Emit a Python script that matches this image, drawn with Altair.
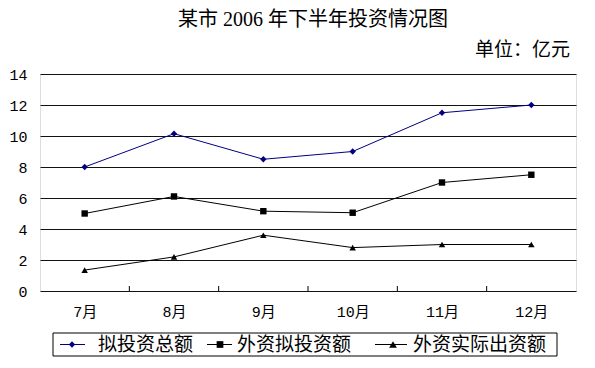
import json
import altair as alt
import pandas as pd

title_text = "某市 2006 年下半年投资情况图"
unit_text = "单位：亿元"
months = ["7月", "8月", "9月", "10月", "11月", "12月"]
series_names = ["拟投资总额", "外资拟投资额", "外资实际出资额"]
s_total = [8.0, 10.15, 8.5, 9.0, 11.5, 12.0]
s_foreign_plan = [5.0, 6.1, 5.15, 5.05, 7.0, 7.5]
s_foreign_actual = [1.35, 2.2, 3.6, 2.8, 3.0, 3.0]
y_ticks = [0, 2, 4, 6, 8, 10, 12, 14]

colors = ["#000080", "#000000", "#000000"]
shapes = ["diamond", "square", "triangle-up"]
sizes = [40, 42, 50]

rows = []
for name, vals in zip(series_names, [s_total, s_foreign_plan, s_foreign_actual]):
    for i, (m, v) in enumerate(zip(months, vals)):
        rows.append({"month": m, "pos": i + 0.5, "series": name, "value": v})
df = pd.DataFrame(rows)

W, H = 536, 217
cjk = "Noto Sans CJK SC"

label_expr = json.dumps(months, ensure_ascii=False) + "[floor(datum.value)]"

xscale = alt.Scale(domain=[0, len(months)], nice=False, zero=False)
yscale = alt.Scale(domain=[0, 14], nice=False)
color_scale = alt.Scale(domain=series_names, range=colors)
shape_scale = alt.Scale(domain=series_names, range=shapes)

x_axis = alt.Axis(
    values=[i + 0.5 for i in range(len(months))],
    labelExpr=label_expr,
    ticks=False,
    domain=False,
    grid=False,
    title=None,
    labelFont="Liberation Mono, " + cjk,
    labelFontSize=15,
    labelColor="#000000",
    labelPadding=13,
    labelOverlap=False,
)
y_axis = alt.Axis(
    values=y_ticks,
    ticks=False,
    domain=False,
    grid=True,
    gridColor="#111111",
    gridWidth=1,
    title=None,
    labelFont="Liberation Mono",
    labelFontSize=15,
    labelColor="#000000",
    labelPadding=13,
    labelOverlap=False,
)
x_enc = alt.X("pos:Q", scale=xscale, axis=x_axis)
y_enc = alt.Y("value:Q", scale=yscale, axis=y_axis)

base = alt.Chart(df)
lines = base.mark_line(strokeWidth=1).encode(
    x=x_enc,
    y=y_enc,
    color=alt.Color("series:N", scale=color_scale, legend=None),
    detail="series:N",
)
points = base.mark_point(filled=True, opacity=1).encode(
    x=x_enc,
    y=y_enc,
    color=alt.Color("series:N", scale=color_scale, legend=None),
    shape=alt.Shape("series:N", scale=shape_scale, legend=None),
    size=alt.Size("series:N", scale=alt.Scale(domain=series_names, range=sizes), legend=None),
)

bounds = pd.DataFrame({"pos": list(range(1, len(months)))})
ticks = alt.Chart(bounds).mark_rule(color="#000000", strokeWidth=1).encode(
    x=x_enc,
    y=alt.value(H),
    y2=alt.value(H - 5),
)

title = alt.Chart(pd.DataFrame({"t": [title_text]})).mark_text(
    font="Liberation Serif, " + cjk, fontSize=20, align="center", baseline="middle", color="#000000"
).encode(text="t:N", x=alt.value(273), y=alt.value(-54))

unit = alt.Chart(pd.DataFrame({"t": [unit_text]})).mark_text(
    font=cjk, fontSize=19, align="right", baseline="middle", color="#000000"
).encode(text="t:N", x=alt.value(530), y=alt.value(-24))

legend_layers = []
box = alt.Chart(pd.DataFrame({"t": [0]})).mark_rect(fill="white", stroke="#000000", strokeWidth=1).encode(
    x=alt.value(13), x2=alt.value(517), y=alt.value(259), y2=alt.value(282)
)
legend_layers.append(box)
ly = 270.5
item_x = [(20, 45, 32, 58), (167, 192, 180, 197), (335, 367, 353, 373)]
for name, col, shp, sz, (x1, x2, xm, xt) in zip(series_names, colors, shapes, [40, 45, 60], item_x):
    d = pd.DataFrame({"t": [name]})
    legend_layers.append(
        alt.Chart(d).mark_rule(color=col, strokeWidth=1).encode(
            x=alt.value(x1), x2=alt.value(x2), y=alt.value(ly)
        )
    )
    legend_layers.append(
        alt.Chart(d).mark_point(filled=True, opacity=1, color=col, shape=shp, size=sz).encode(
            x=alt.value(xm), y=alt.value(ly)
        )
    )
    legend_layers.append(
        alt.Chart(d).mark_text(font=cjk, fontSize=19, align="left", baseline="middle", color="#000000").encode(
            text="t:N", x=alt.value(xt), y=alt.value(ly)
        )
    )

chart = alt.layer(lines, points, ticks, title, unit, *legend_layers).properties(
    width=W,
    height=H,
    autosize=alt.AutoSizeParams(type="none"),
    padding={"left": 32, "top": 66, "right": 10, "bottom": 72},
).configure_view(stroke="#000000", strokeWidth=1).configure(background="white")

chart.save("out.html", embed_options={"renderer": "svg", "actions": False})
